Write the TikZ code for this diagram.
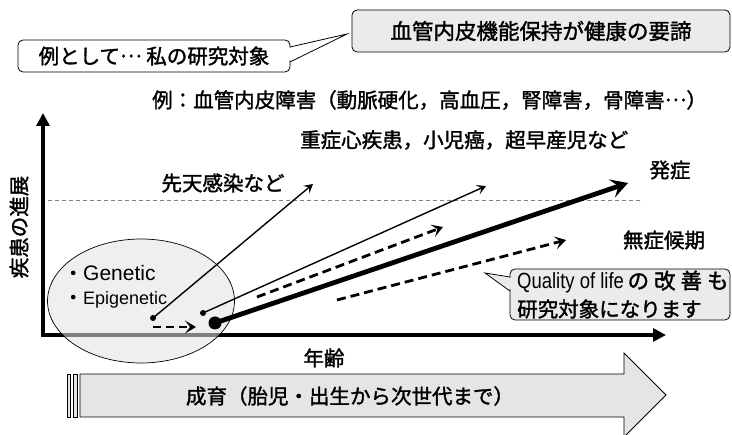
\documentclass[tikz,border=0pt]{standalone}
\usepackage{fontspec}
\setmainfont{Liberation Sans}
\newfontfamily\cjk{Noto Sans CJK JP}[FakeBold=1.6]
\usetikzlibrary{arrows.meta,shapes.geometric}
\definecolor{boxgray}{gray}{0.92}
\definecolor{arrgray}{gray}{0.90}
\newcommand\middots{\raisebox{0.32em}{…}}
\begin{document}
\begin{tikzpicture}[x=1pt,y=-1pt,
  jp/.style={font=\cjk\fontsize{20.5}{24}\selectfont, inner sep=0pt},
  roundbox/.style={draw=black, line width=0.8pt, rounded corners=5pt, inner sep=0pt},
  axisline/.style={line width=3.6pt, {Triangle[length=13pt,width=13pt]}-{Triangle[length=13pt,width=13pt]}},
  thinarrow/.style={line width=1.4pt, -{Stealth[length=9pt,width=10pt,inset=4pt]}},
  thickarrow/.style={line width=4.8pt, -{Stealth[length=17pt,width=19pt,inset=7pt]}},
  dasharrow/.style={line width=2.8pt, dash pattern=on 9pt off 5pt, -{Stealth[length=11pt,width=13pt,inset=5pt]}},
  dot/.style={circle, fill=black, inner sep=0pt},
  tailline/.style={line width=0.8pt, line join=miter}
]
\useasboundingbox (0,0) rectangle (732,435);

% top goal box
\node[roundbox, fill=boxgray, minimum width=378pt, minimum height=42pt] (goal) at (541,31)
  {\cjk\fontsize{21.5}{24}\selectfont 血管内皮機能保持が健康の要諦};

% callout: example
\node[roundbox, fill=white, minimum width=272pt, minimum height=32pt] (ex) at (154,56)
  {\cjk\fontsize{20.5}{24}\selectfont 例として\middots\ 私の研究対象};
\coordinate (exA) at (290,47);
\coordinate (exB) at (290,62);
\coordinate (exTip) at (347,34);
\fill[white] (288.5,48) -- (exTip) -- (288.5,61) -- cycle;
\draw[tailline] (exA) -- (exTip) -- (exB);

% text lines
\node[jp, anchor=west] (ex1) at (152,100) {例：血管内皮障害（動脈硬化，高血圧，腎障害，骨障害\middots）};
\node[jp, anchor=west] (ex2) at (300,140) {重症心疾患，小児癌，超早産児など};

% threshold dashed line
\coordinate (thA) at (48,200.5);
\coordinate (thB) at (643,200.5);
\draw[gray, line width=0.6pt, dash pattern=on 4pt off 3pt] (thA) -- (thB);

% axes
\coordinate (O) at (43,335);
\coordinate (ytop) at (43,113);
\coordinate (xend) at (666,335);
\draw[axisline] (ytop) -- (O) -- (xend);

\node[jp, rotate=90] (ylab) at (19,227) {疾患の進展};
\node[jp] (xlab) at (324,358) {年齢};

% ellipse
\node[ellipse, draw=black, line width=0.7pt, fill=black!11, fill opacity=0.56, draw opacity=1,
      minimum width=187pt, minimum height=124pt, inner sep=0pt] (gen) at (141,301) {};
\node[anchor=west, inner sep=0pt] (g1) at (63,273) {{\cjk\fontsize{20}{24}\selectfont ・}\fontsize{21}{24}\selectfont Genetic};
\node[anchor=west, inner sep=0pt] (g2) at (63,300) {{\cjk\fontsize{20}{24}\selectfont ・}\fontsize{18}{22}\selectfont Epigenetic};

% labels
\node[jp] (cong) at (223,183) {先天感染など};
\node[jp] (onset) at (670,170) {発症};
\node[jp] (asym) at (664,240) {無症候期};

% dots
\node[dot, minimum size=6pt] (d1) at (153,318) {};
\node[dot, minimum size=6pt] (d2) at (203,313) {};
\node[dot, minimum size=13pt] (d3) at (215,323) {};

% arrows
\coordinate (t1) at (313,184);
\coordinate (t2) at (486,186);
\coordinate (t3) at (628,183);
\draw[thinarrow] (d1.center) -- (t1);
\draw[thinarrow] (d2.center) -- (t2);
\draw[thickarrow] (d3.center) -- (t3);

\coordinate (s1) at (153,327);
\coordinate (s2) at (196,327);
\draw[dasharrow, dash pattern=on 8pt off 5pt] (s1) -- (s2);
\coordinate (a1s) at (257,297);
\coordinate (a1e) at (443,227);
\draw[dasharrow] (a1s) -- (a1e);
\coordinate (a2s) at (337,300);
\coordinate (a2e) at (566,240);
\draw[dasharrow] (a2s) -- (a2e);

% QOL callout
\node[roundbox, fill=boxgray, minimum width=220pt, minimum height=51pt] (qol) at (620,294.5) {};
\coordinate (qA) at (510,277);
\coordinate (qB) at (510,291);
\coordinate (qTip) at (485,273);
\fill[boxgray] (511.5,278) -- (qTip) -- (511.5,290) -- cycle;
\draw[tailline] (qA) -- (qTip) -- (qB);
\node[anchor=west, inner sep=0pt] (q1) at (517,282)
  {\scalebox{0.84}[1]{\fontsize{22}{24}\selectfont Quality of life}{\cjk\fontsize{21.5}{24}\selectfont\,の\hspace{5pt}改\hspace{5pt}善\hspace{5pt}も}};
\node[jp, anchor=west] (q2) at (517,309) {研究対象になります};

% growth arrow
\draw[line width=0.8pt, fill=arrgray] (80,374) -- (624,374) -- (624,353) -- (666,395) -- (624,437) -- (624,417) -- (80,417) -- cycle;
\draw[line width=0.8pt, fill=arrgray] (67,374) rectangle (70.5,417);
\draw[line width=0.8pt, fill=arrgray] (73,374) rectangle (77,417);
\node[jp] (growth) at (350,396) {成育（胎児・出生から次世代まで）};
\end{tikzpicture}
\end{document}
